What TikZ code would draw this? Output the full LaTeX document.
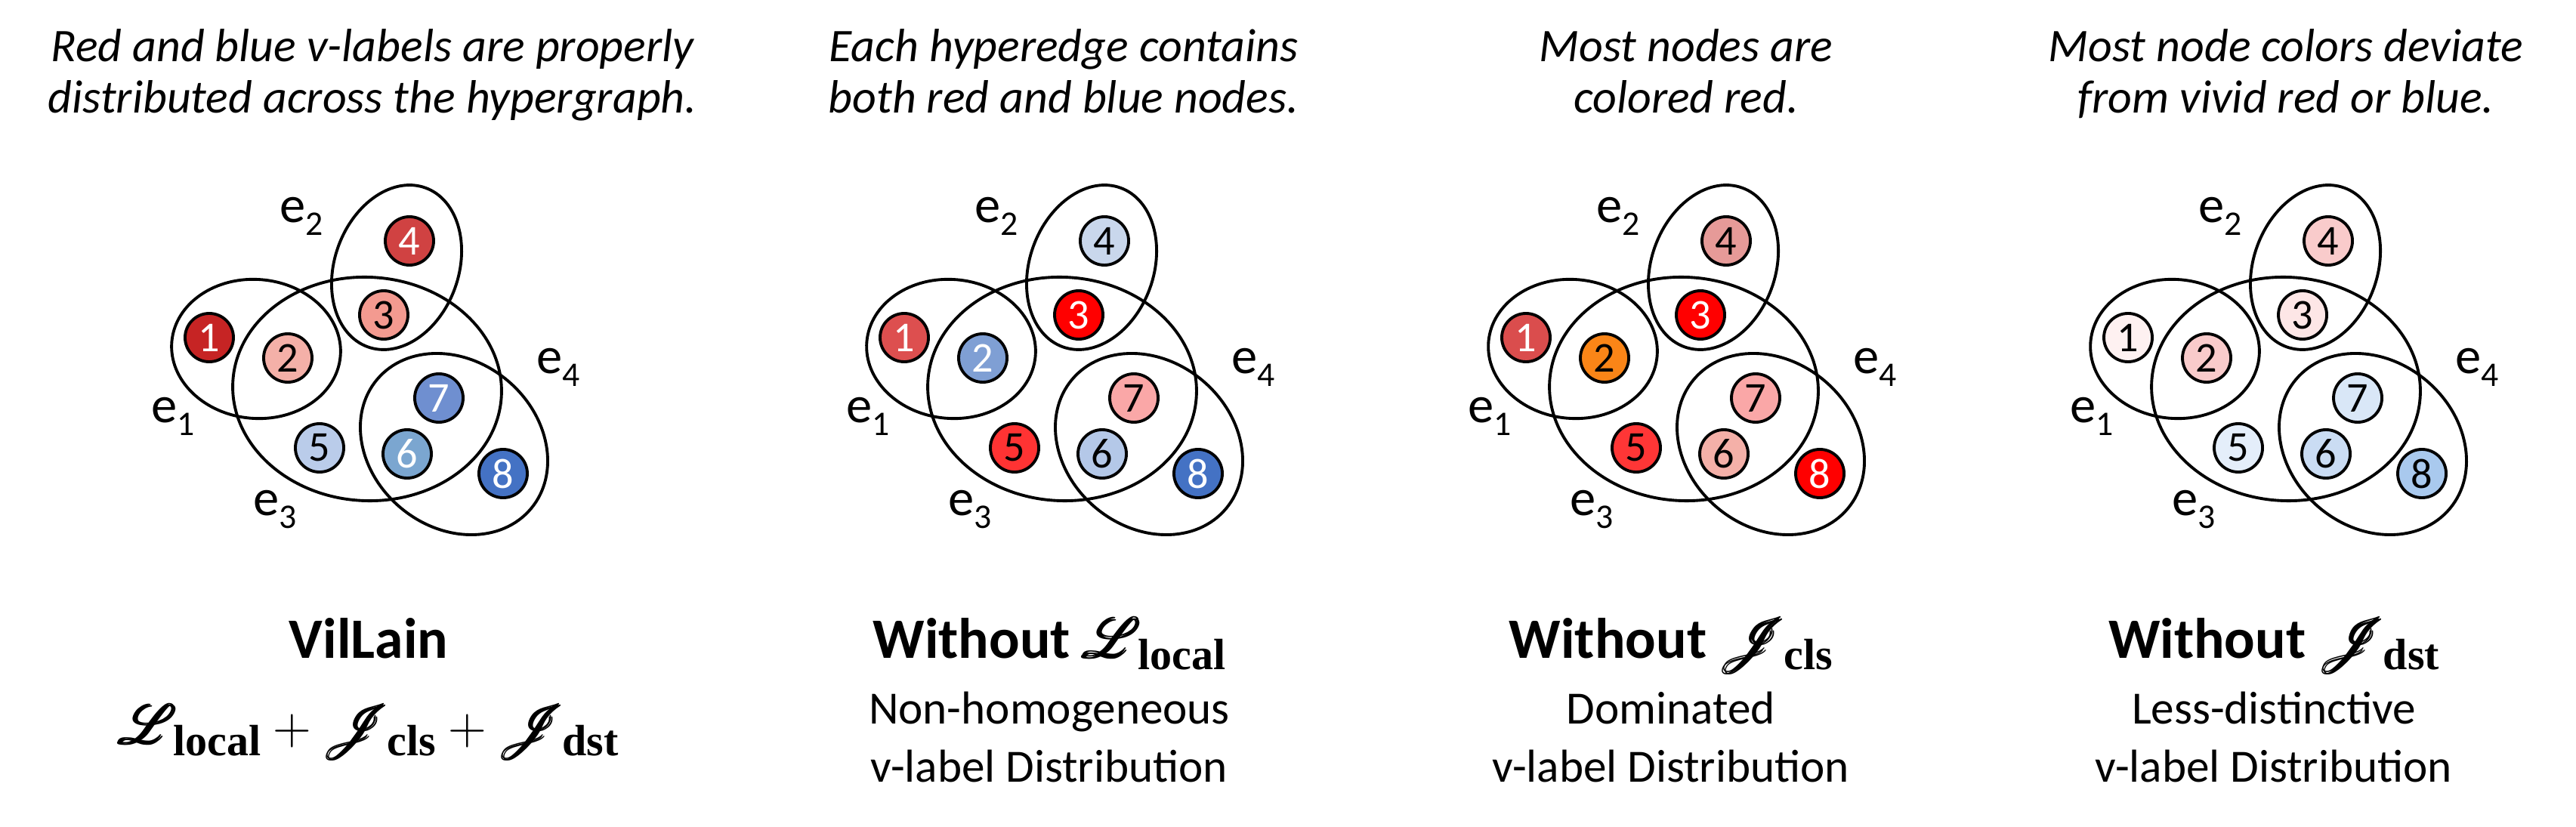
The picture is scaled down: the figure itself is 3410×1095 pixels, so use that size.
\documentclass[tikz,border=0pt]{standalone}
\usepackage{fix-cm}
\usepackage[no-math]{fontspec}
\setmainfont{Carlito}
\newfontfamily\serifrm{Liberation Serif}
\usepackage{amsmath}
\usepackage{mathrsfs}

% node colours, one row per panel
\definecolor{vA1}{HTML}{C62424}\definecolor{vA2}{HTML}{F4B0A8}\definecolor{vA3}{HTML}{F39A90}\definecolor{vA4}{HTML}{D04242}
\definecolor{vA5}{HTML}{BACCEA}\definecolor{vA6}{HTML}{7BA6D0}\definecolor{vA7}{HTML}{6F8FD0}\definecolor{vA8}{HTML}{4472C4}
\definecolor{vB1}{HTML}{DD4F4F}\definecolor{vB2}{HTML}{7F9FD4}\definecolor{vB3}{HTML}{FF0000}\definecolor{vB4}{HTML}{C9D7EC}
\definecolor{vB5}{HTML}{FF3333}\definecolor{vB6}{HTML}{B4C8E8}\definecolor{vB7}{HTML}{FAA7A7}\definecolor{vB8}{HTML}{4472C4}
\definecolor{vC1}{HTML}{DA4D4D}\definecolor{vC2}{HTML}{FA8517}\definecolor{vC3}{HTML}{FF0000}\definecolor{vC4}{HTML}{E69A98}
\definecolor{vC5}{HTML}{FF3636}\definecolor{vC6}{HTML}{F4B0A8}\definecolor{vC7}{HTML}{FAA7A7}\definecolor{vC8}{HTML}{FF0000}
\definecolor{vD1}{HTML}{FEF1F1}\definecolor{vD2}{HTML}{F9CBCB}\definecolor{vD3}{HTML}{FDE6E6}\definecolor{vD4}{HTML}{F9CBCB}
\definecolor{vD5}{HTML}{E4EEFA}\definecolor{vD6}{HTML}{CADCF3}\definecolor{vD7}{HTML}{D9E7F7}\definecolor{vD8}{HTML}{A9C9EE}

\newcommand{\esub}[1]{e\raisebox{-4.8pt}{\fontsize{13}{13}\selectfont #1}}
\newcommand{\lsub}[1]{\kern-1.5pt\raisebox{-4.5pt}{\fontsize{16.5}{16.5}\selectfont\serifrm\bfseries #1}}
\newcommand{\lossL}{\pmb{\mathscr{L}}\lsub{local}}
\newcommand{\lossJ}[1]{\pmb{\mathscr{J}}\lsub{#1}}

% one hypergraph: prefix, then the style of nodes 1..8
\newcommand{\hgraph}[9]{%
  \draw[hedge,rotate around={-5:(339,462)}] (339,462) ellipse [x radius=112, y radius=92];
  \draw[hedge,rotate around={-20:(525,354)}] (525,354) ellipse [x radius=82, y radius=112];
  \draw[hedge,rotate around={-3:(486,515)}] (486,515) ellipse [x radius=178, y radius=148];
  \draw[hedge,rotate around={-40:(601,588)}] (601,588) ellipse [x radius=133, y radius=110];
  \node[vnode,#2] (#1n1) at (277,447) {1};
  \node[vnode,#3] (#1n2) at (381,474) {2};
  \node[vnode,#4] (#1n3) at (508,417) {3};
  \node[vnode,#5] (#1n4) at (542,319) {4};
  \node[vnode,#6] (#1n5) at (423,593) {5};
  \node[vnode,#7] (#1n6) at (539,601) {6};
  \node[vnode,#8] (#1n7) at (581,527) {7};
  \node[vnode,#9] (#1n8) at (666,627) {8};
  \node[elabel] (#1e1) at (200,560) {\esub{1}};
  \node[elabel] (#1e2) at (370,295) {\esub{2}};
  \node[elabel] (#1e3) at (335,683) {\esub{3}};
  \node[elabel] (#1e4) at (710,495) {\esub{4}};
}

\begin{document}
\begin{tikzpicture}[
  x=0.01cm, y=-0.01cm,
  vnode/.style={circle, draw, line width=1.1pt, minimum size=0.64cm, inner sep=0pt,
    font=\fontsize{16}{16}\selectfont},
  dk/.style={text=white},
  hedge/.style={draw, line width=1.1pt},
  elabel/.style={inner sep=0pt, anchor=base west, font=\fontsize{19.5}{20}\selectfont},
  caption/.style={inner sep=0pt, anchor=base, font=\fontsize{17.6}{19}\selectfont\itshape},
  title/.style={inner sep=0pt, anchor=base, font=\fontsize{21.5}{22}\selectfont\bfseries},
  subtitle/.style={inner sep=0pt, anchor=base, font=\fontsize{17.4}{18}\selectfont},
  formula/.style={inner sep=0pt, anchor=base, font=\fontsize{20}{21}\selectfont}
]
\useasboundingbox (0,0) rectangle (3410,1095);

% panel 1
\hgraph{a}{dk,fill=vA1}{fill=vA2}{fill=vA3}{dk,fill=vA4}{fill=vA5}{dk,fill=vA6}{dk,fill=vA7}{dk,fill=vA8}
\node[caption] (capA1) at (493,82) {Red and blue v-labels are properly};
\node[caption] (capA2) at (493,150) {distributed across the hypergraph.};
\node[title] (titA) at (488,871) {VilLain};
\node[formula] (forA) at (488,985) {$\lossL+\lossJ{cls}+\lossJ{dst}$};

% panel 2
\begin{scope}[shift={(920,0)}]
\hgraph{b}{dk,fill=vB1}{dk,fill=vB2}{dk,fill=vB3}{fill=vB4}{fill=vB5}{fill=vB6}{fill=vB7}{dk,fill=vB8}
\end{scope}
\node[caption] (capB1) at (1408,82) {Each hyperedge contains};
\node[caption] (capB2) at (1408,150) {both red and blue nodes.};
\node[title] (titB) at (1389,871) {Without $\lossL$};
\node[subtitle] (subB1) at (1389,958) {Non-homogeneous};
\node[subtitle] (subB2) at (1389,1035) {v-label Distribution};

% panel 3
\begin{scope}[shift={(1743,0)}]
\hgraph{c}{dk,fill=vC1}{fill=vC2}{dk,fill=vC3}{fill=vC4}{fill=vC5}{fill=vC6}{fill=vC7}{dk,fill=vC8}
\end{scope}
\node[caption] (capC1) at (2232,82) {Most nodes are};
\node[caption] (capC2) at (2232,150) {colored red.};
\node[title] (titC) at (2212,871) {Without $\lossJ{cls}$};
\node[subtitle] (subC1) at (2212,958) {Dominated};
\node[subtitle] (subC2) at (2212,1035) {v-label Distribution};

% panel 4
\begin{scope}[shift={(2540,0)}]
\hgraph{d}{fill=vD1}{fill=vD2}{fill=vD3}{fill=vD4}{fill=vD5}{fill=vD6}{fill=vD7}{fill=vD8}
\end{scope}
\node[caption] (capD1) at (3026,82) {Most node colors deviate};
\node[caption] (capD2) at (3026,150) {from vivid red or blue.};
\node[title] (titD) at (3010,871) {Without $\lossJ{dst}$};
\node[subtitle] (subD1) at (3010,958) {Less-distinctive};
\node[subtitle] (subD2) at (3010,1035) {v-label Distribution};
\end{tikzpicture}
\end{document}
